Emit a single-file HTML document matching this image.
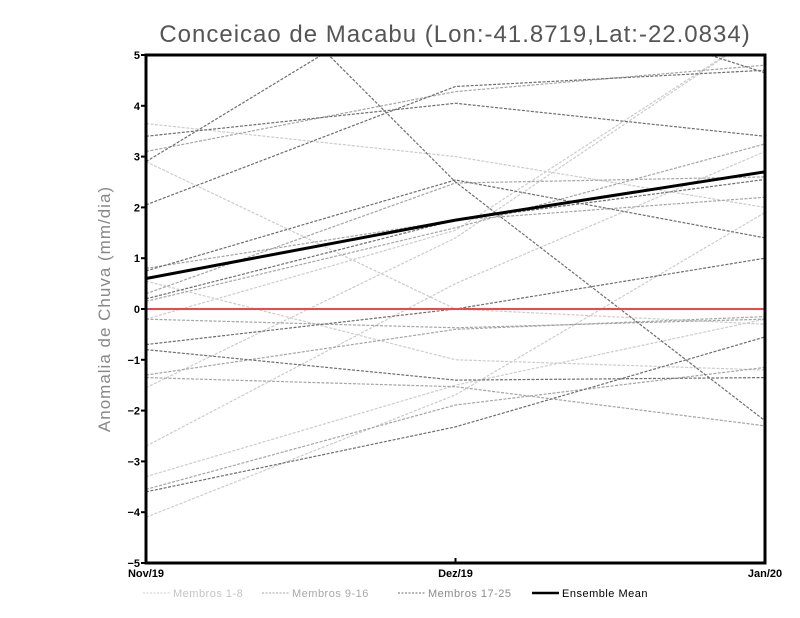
<!DOCTYPE html>
<html><head><meta charset="utf-8"><style>
html,body{margin:0;padding:0;background:#fff;}
svg{display:block;font-family:"Liberation Sans",sans-serif;}
</style></head><body>
<svg id="chart" width="800" height="618" viewBox="0 0 800 618">
<defs><clipPath id="clip"><rect x="146" y="55" width="619" height="508"/></clipPath></defs>
<text x="455" y="42" text-anchor="middle" font-size="24" fill="#555" letter-spacing="1">Conceicao de Macabu (Lon:-41.8719,Lat:-22.0834)</text>
<text transform="translate(110,309) rotate(-90)" text-anchor="middle" font-size="17" fill="#888" letter-spacing="1">Anomalia de Chuva (mm/dia)</text>
<g id="series" clip-path="url(#clip)"></g>
<rect x="146" y="55" width="619" height="508" fill="none" stroke="#000" stroke-width="3"/>
<g id="axes"></g>
<g id="legend"></g>
</svg>
<script>
const categories = ["Nov/19","Dez/19","Jan/20"];
const yTicks = [-5,-4,-3,-2,-1,0,1,2,3,4,5];
const light = [[3.65,3.0,2.0],[2.9,0.0,-0.3],[0.55,-1.0,-1.2],[-0.2,1.55,5.5],[-1.55,1.4,5.5],[-2.7,0.5,3.1],[-3.3,-1.5,-0.2],[-4.1,-1.69,1.9]];
const mid = [[3.1,4.28,4.8],[0.8,1.75,2.2],[0.3,2.48,2.6],[-0.2,-0.37,-0.2],[-1.3,-0.4,-0.15],[-1.35,-1.53,-2.3],[-3.55,-1.89,-1.15],[0.15,1.6,3.25]];
const dark = [[3.4,4.05,3.4],[2.9,6.6,4.65],[2.05,4.38,4.7],[0.75,2.54,1.4],[0.2,1.75,2.55],[-0.7,0,1.0],[-0.8,-1.4,-1.35],[-3.6,-2.32,-0.55],[8.6,2.5,-2.2]];
const ensembleMean = [0.6,1.75,2.7];
const legendLabels = ["Membros 1-8","Membros 9-16","Membros 17-25","Ensemble Mean"];

const NS="http://www.w3.org/2000/svg";
const X0=146,X1=765,Y0=563,Y1=55;
function xs(i){return X0+(X1-X0)*i/(categories.length-1);}
function ys(v){return Y0-(v+5)/10*(Y0-Y1);}
function mk(tag,attrs,parent){const e=document.createElementNS(NS,tag);for(const k in attrs)e.setAttribute(k,attrs[k]);parent.appendChild(e);return e;}
const sg=document.getElementById('series');
function drawGroup(arr,color,name){
  arr.forEach((s,j)=>{
    const p=mk('polyline',{points:s.map((v,i)=>xs(i)+','+ys(v)).join(' '),fill:'none',stroke:color,'stroke-width':1.2,'stroke-dasharray':'3,1.5'},sg);
    
    
  });
}
drawGroup(light,'#cccccc','member-1-8');
drawGroup(mid,'#a5a5a5','member-9-16');
drawGroup(dark,'#6e6e6e','member-17-25');
const zl=mk('line',{x1:X0,x2:X1,y1:ys(0),y2:ys(0),stroke:'#f04848','stroke-width':2},sg);


const ml=mk('polyline',{points:ensembleMean.map((v,i)=>xs(i)+','+ys(v)).join(' '),fill:'none',stroke:'#000','stroke-width':3},sg);



const ax=document.getElementById('axes');
yTicks.forEach(t=>{
  const l=mk('line',{x1:X0-5,x2:X0,y1:ys(t),y2:ys(t),stroke:'#000','stroke-width':2},ax);
  
  
  const tx=mk('text',{x:X0-6,y:ys(t)+4,'text-anchor':'end','font-size':11,'font-weight':'bold'},ax);
  tx.textContent=String(t).replace('-','−');
  
  
});
categories.forEach((c,i)=>{
  const l=mk('line',{x1:xs(i),x2:xs(i),y1:Y0,y2:Y0-5,stroke:'#000','stroke-width':2},ax);
  
  
  const tx=mk('text',{x:xs(i),y:577,'text-anchor':'middle','font-size':11,'font-weight':'bold'},ax);
  tx.textContent=c;
  
  
});

const lg=document.getElementById('legend');
const lx=[143,262,398,532],cols=['#cccccc','#a5a5a5','#6e6e6e','#000'],tcols=['#c4c4c4','#a8a8a8','#8c8c8c','#000'];
legendLabels.forEach((lab,i)=>{
  const l=mk('line',{x1:lx[i],x2:lx[i]+27,y1:593,y2:593,stroke:cols[i],'stroke-width':i==3?2.5:1,'stroke-dasharray':i==3?'none':'2,1.5'},lg);
  
  
  const tx=mk('text',{x:lx[i]+30,y:597,'font-size':11,fill:tcols[i],'letter-spacing':'0.5'},lg);
  tx.textContent=lab;
  
  
});
</script>
</body></html>
